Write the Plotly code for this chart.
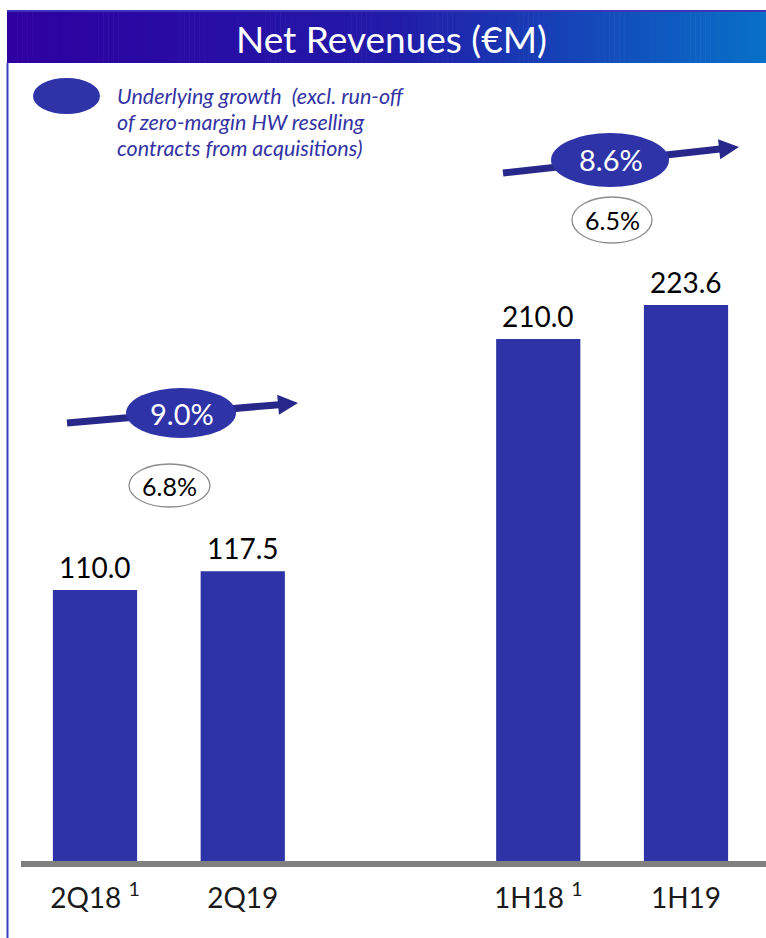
import plotly.graph_objects as go

# ---- data -------------------------------------------------------------
periods = ["2Q18", "2Q19", "1H18", "1H19"]
footnotes = ["1", "", "1", ""]
revenues = [110.0, 117.5, 210.0, 223.6]
slots = [0, 1, 3, 4]                 # empty slot 2 separates quarter and half-year
underlying_growth = [9.0, 8.6]       # excl. run-off of zero-margin HW reselling
groups = [(0, 1), (2, 3)]            # index pairs compared by each growth badge

# ---- page geometry ----------------------------------------------------
W, H = 766, 938
PLOT_LEFT, PLOT_BOTTOM = 21, 866
PX_PER_SLOT = 147.75
FIRST_SLOT_PX = 95
PX_PER_UNIT = 2.509

BAR_COLOR = "#2E33A8"
ARROW_COLOR = "#27288A"
LEGEND_COLOR = "#3333A3"
FONT = "Lato"


def px(x):
    return x / W


def py(y):
    return 1 - y / H


x_range = [(PLOT_LEFT - FIRST_SLOT_PX) / PX_PER_SLOT, (W - FIRST_SLOT_PX) / PX_PER_SLOT]
y_range = [0, PLOT_BOTTOM / PX_PER_UNIT]

fig = go.Figure()
fig.add_trace(go.Bar(
    x=slots, y=revenues, width=0.57,
    marker=dict(color=BAR_COLOR, line=dict(width=0)),
    hoverinfo="skip",
))

shapes = []
annotations = []

# header band with a left-to-right gradient
stops = [(0.0, (46, 0, 160)), (0.5, (34, 26, 168)), (1.0, (8, 112, 200))]


def grad(t):
    for (t0, c0), (t1, c1) in zip(stops, stops[1:]):
        if t <= t1:
            f = (t - t0) / (t1 - t0)
            return "rgb(%d,%d,%d)" % tuple(round(a + (b - a) * f) for a, b in zip(c0, c1))
    return "rgb(%d,%d,%d)" % stops[-1][1]


HX0, HX1, HY0, HY1 = 7, W, 10, 63
n = 150
step = (HX1 - HX0) / n
for i in range(n):
    x0 = HX0 + i * step
    shapes.append(dict(type="rect", xref="paper", yref="paper",
                       x0=px(x0), x1=px(x0 + step + 0.6), y0=py(HY1), y1=py(HY0),
                       fillcolor=grad(i / (n - 1)), line=dict(width=0), layer="below"))
shapes.append(dict(type="line", xref="paper", yref="paper",
                   x0=px(HX0), x1=px(HX1), y0=py(11), y1=py(11),
                   line=dict(color="#3A34B8", width=2)))
annotations.append(dict(xref="paper", yref="paper", x=px(391), y=py(38),
                        text="Net Revenues (€M)", showarrow=False,
                        font=dict(family=FONT, size=37, color="white"),
                        xanchor="center", yanchor="middle"))

# left frame line
shapes.append(dict(type="line", xref="paper", yref="paper",
                   x0=px(7.5), x1=px(7.5), y0=py(HY1), y1=py(H),
                   line=dict(color="#3D3DC4", width=2)))

# legend
shapes.append(dict(type="circle", xref="paper", yref="paper",
                   x0=px(33), x1=px(100), y0=py(114), y1=py(78),
                   fillcolor=BAR_COLOR, line=dict(width=0)))
legend_lines = ["Underlying growth  (excl. run-off",
                "of zero-margin HW reselling",
                "contracts from acquisitions)"]
for k, line in enumerate(legend_lines):
    annotations.append(dict(xref="paper", yref="paper", x=px(115), y=py(96 + 26 * k),
                            text="<i>%s</i>" % line, showarrow=False,
                            font=dict(family=FONT, size=21.5, color=LEGEND_COLOR),
                            xanchor="left", yanchor="middle"))

# growth badges: arrow, underlying-growth ellipse, reported-growth ellipse
badge_style = [
    dict(tail=(67, 423), tip=(298, 403), big=(126, 236, 388, 438), small=(129, 210, 464, 507)),
    dict(tail=(503, 173), tip=(739, 147), big=(551, 669, 133, 187), small=(572, 652, 197, 243)),
]
HEAD = 20
for (a, b), ug, st in zip(groups, underlying_growth, badge_style):
    reported = (revenues[b] / revenues[a] - 1) * 100
    (tx, ty), (hx, hy) = st["tail"], st["tip"]
    dx, dy = hx - tx, hy - ty
    ln = (dx * dx + dy * dy) ** 0.5
    ux, uy = dx / ln, dy / ln
    bx, by = hx - HEAD * ux, hy - HEAD * uy
    shapes.append(dict(type="line", xref="paper", yref="paper",
                       x0=px(tx), y0=py(ty), x1=px(bx + ux), y1=py(by + uy),
                       line=dict(color=ARROW_COLOR, width=7)))
    c1 = (bx - uy * 10, by + ux * 10)
    c2 = (bx + uy * 10, by - ux * 10)
    path = "M %f %f L %f %f L %f %f Z" % (px(hx), py(hy), px(c1[0]), py(c1[1]), px(c2[0]), py(c2[1]))
    shapes.append(dict(type="path", xref="paper", yref="paper", path=path,
                       fillcolor=ARROW_COLOR, line=dict(width=0)))
    x0, x1, y0, y1 = st["big"]
    shapes.append(dict(type="circle", xref="paper", yref="paper",
                       x0=px(x0), x1=px(x1), y0=py(y1), y1=py(y0),
                       fillcolor=BAR_COLOR, line=dict(width=0)))
    annotations.append(dict(xref="paper", yref="paper", x=px((x0 + x1) / 2 + 1), y=py((y0 + y1) / 2),
                            text="%.1f%%" % ug, showarrow=False,
                            font=dict(family=FONT, size=29, color="white"),
                            xanchor="center", yanchor="middle"))
    x0, x1, y0, y1 = st["small"]
    shapes.append(dict(type="circle", xref="paper", yref="paper",
                       x0=px(x0), x1=px(x1), y0=py(y1), y1=py(y0),
                       fillcolor="white", line=dict(color="#8C8C8C", width=1.3)))
    annotations.append(dict(xref="paper", yref="paper", x=px((x0 + x1) / 2), y=py((y0 + y1) / 2),
                            text="%.1f%%" % reported, showarrow=False,
                            font=dict(family=FONT, size=25, color="black"),
                            xanchor="center", yanchor="middle"))

# value labels above bars
for s, v in zip(slots, revenues):
    annotations.append(dict(xref="x", yref="y", x=s, y=v, text="%.1f" % v,
                            showarrow=False, yanchor="bottom", yshift=4,
                            font=dict(family=FONT, size=28, color="black")))

# baseline
shapes.append(dict(type="line", xref="paper", yref="paper",
                   x0=px(PLOT_LEFT), x1=px(W), y0=py(864), y1=py(864),
                   line=dict(color="#808080", width=6)))

ticktext = [p + (" <sup>%s</sup>" % f if f else "") for p, f in zip(periods, footnotes)]

fig.update_layout(
    width=W, height=H,
    margin=dict(l=0, r=0, t=0, b=0),
    paper_bgcolor="white", plot_bgcolor="rgba(0,0,0,0)",
    showlegend=False,
    shapes=shapes,
    annotations=annotations,
    xaxis=dict(domain=[px(PLOT_LEFT), 1], range=x_range, tickvals=slots, ticktext=ticktext,
               showgrid=False, zeroline=False, showline=False,
               ticks="outside", ticklen=7, tickcolor="rgba(0,0,0,0)",
               tickfont=dict(family=FONT, size=28, color="#1A1A1A"),
               automargin=False, fixedrange=True),
    yaxis=dict(domain=[1 - PLOT_BOTTOM / H, 1], range=y_range, visible=False,
               automargin=False, fixedrange=True),
)

fig.write_html("out.html")
